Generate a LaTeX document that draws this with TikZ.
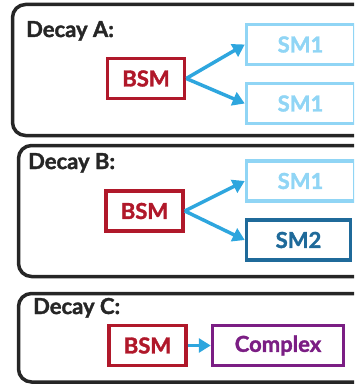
\documentclass[tikz,border=0pt]{standalone}
\usepackage{fontspec}
\setmainfont{Lato}[BoldFeatures={FakeBold=1.6}]
\usepackage{tikz}
\usetikzlibrary{arrows.meta, positioning}

\definecolor{bsmred}{HTML}{B0182A}
\definecolor{smlight}{HTML}{90D5F5}
\definecolor{smdark}{HTML}{1F6A9A}
\definecolor{cplx}{HTML}{7B1E84}
\definecolor{arrblue}{HTML}{2EA6DE}

\begin{document}
\begin{tikzpicture}[
  x=1pt, y=-1pt,
  font=\bfseries\fontsize{22}{24}\selectfont,
  panel/.style={draw=black!85, line width=3.5pt, rounded corners=13pt},
  title/.style={anchor=base west, inner sep=0pt, text=black!85},
  particle/.style={draw, line width=3.5pt, minimum height=40pt, inner sep=0pt},
  bsm/.style={particle, draw=bsmred, text=bsmred, minimum width=77pt},
  smone/.style={particle, draw=smlight, text=smlight, minimum width=108pt},
  smtwo/.style={particle, draw=smdark, text=smdark, minimum width=104pt},
  arr/.style={-{Triangle[length=12pt, width=14pt]}, arrblue, line width=3.5pt}
]
  \useasboundingbox (0,0) rectangle (354,385);
  \clip (0,0) rectangle (354,385);

  % Decay A
  \draw[panel] (12.5,4.5) rectangle (370,135.5);
  \node[title] (tA) at (26,37) {Decay A:};
  \node[bsm] (bsmA) at (146,78.5) {BSM};
  \node[smone] (smA1) at (300.5,44.5) {SM1};
  \node[smone] (smA2) at (300.5,103.5) {SM1};
  \draw[arr] (bsmA.east) -- (smA1.west);
  \draw[arr] (bsmA.east) -- (smA2.west);

  % Decay B
  \draw[panel] (18.5,145.5) rectangle (370,276.5);
  \node[title] (tB) at (28,169) {Decay B:};
  \node[bsm] (bsmB) at (144.5,211) {BSM};
  \node[smone] (smB1) at (300.5,181) {SM1};
  \node[smtwo] (smB2) at (298.5,240) {SM2};
  \draw[arr] (bsmB.east) -- (smB1.west);
  \draw[arr] (bsmB.east) -- (smB2.west);

  % Decay C
  \draw[panel] (18.5,293.5) rectangle (370,382);
  \node[title] (tC) at (33,314) {Decay C:};
  \node[bsm] (bsmC) at (147.5,345.5) {BSM};
  \node[particle, draw=cplx, text=cplx, minimum width=131pt, right=23pt of bsmC] (cpx) {Complex};
  \draw[arr] (bsmC.east) -- (cpx.west);
\end{tikzpicture}
\end{document}
